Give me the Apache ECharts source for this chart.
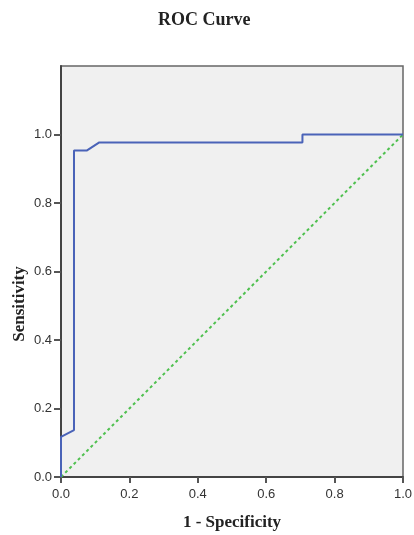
<!DOCTYPE html>
<html>
<head>
<meta charset="utf-8">
<script src="https://cdn.jsdelivr.net/npm/echarts@6/dist/echarts.min.js"></script>
<style>
  html, body { margin: 0; padding: 0; background: #fff; }
  #chart { width: 414px; height: 535px; }
</style>
</head>
<body>
<div id="chart"></div>
<script>
// ROC curve points: [1 - specificity, sensitivity]
const rocPoints = [
  [0.0, 0.0], [0.0, 0.117], [0.038, 0.137], [0.038, 0.953],
  [0.075, 0.953], [0.112, 0.977], [0.706, 0.977], [0.706, 1.0], [1.0, 1.0]
];
const refLine = [[0, 0], [1, 1]];
const tickValues = [0, 0.2, 0.4, 0.6, 0.8, 1.0];

const chart = echarts.init(document.getElementById('chart'));

const serif = '"Liberation Serif", "DejaVu Serif", serif';
const sans = '"Liberation Sans", Arial, sans-serif';
const axisColor = '#444';

chart.setOption({
  animation: false,
  title: {
    text: 'ROC Curve',
    left: 153,
    top: 6,
    textStyle: { fontFamily: serif, fontSize: 18, fontWeight: 'bold', color: '#222' }
  },
  grid: {
    left: 61, top: 66, width: 342, height: 411,
    outerBoundsMode: 'none',
    containLabel: false,
    show: true, backgroundColor: '#f0f0f0', borderColor: '#666', borderWidth: 1.5
  },
  xAxis: {
    type: 'value', min: 0, max: 1, interval: 0.2,
    name: '1 - Specificity',
    nameLocation: 'middle', nameGap: 37,
    nameTextStyle: { fontFamily: serif, fontSize: 17, fontWeight: 'bold', color: '#222' },
    axisLine: { show: true, lineStyle: { color: axisColor, width: 2 } },
    axisTick: { show: true, length: 6, lineStyle: { color: '#555', width: 2 } },
    axisLabel: { fontFamily: sans, fontSize: 13, color: '#333', margin: 11,
      formatter: v => v.toFixed(1) },
    splitLine: { show: false }
  },
  yAxis: {
    type: 'value', min: 0, max: 1.2, interval: 0.2,
    axisLine: { show: true, lineStyle: { color: axisColor, width: 2 } },
    axisTick: { show: true, length: 7, customValues: tickValues, lineStyle: { color: '#555', width: 2 } },
    axisLabel: { fontFamily: sans, fontSize: 13, color: '#333', margin: 9,
      customValues: tickValues, formatter: v => v.toFixed(1) },
    splitLine: { show: false }
  },
  graphic: [{
    type: 'text',
    x: 20, y: 304,
    rotation: Math.PI / 2,
    style: {
      text: 'Sensitivity',
      fontFamily: serif, fontSize: 17, fontWeight: 'bold', fill: '#222',
      align: 'center', verticalAlign: 'middle'
    }
  }],
  series: [
    {
      type: 'line',
      data: refLine,
      symbol: 'none',
      lineStyle: { color: '#4fc04f', width: 2, type: [3, 3] },
      silent: true
    },
    {
      type: 'line',
      data: rocPoints,
      symbol: 'none',
      lineStyle: { color: '#4a63b8', width: 2 },
      silent: true
    }
  ]
});
</script>
</body>
</html>
